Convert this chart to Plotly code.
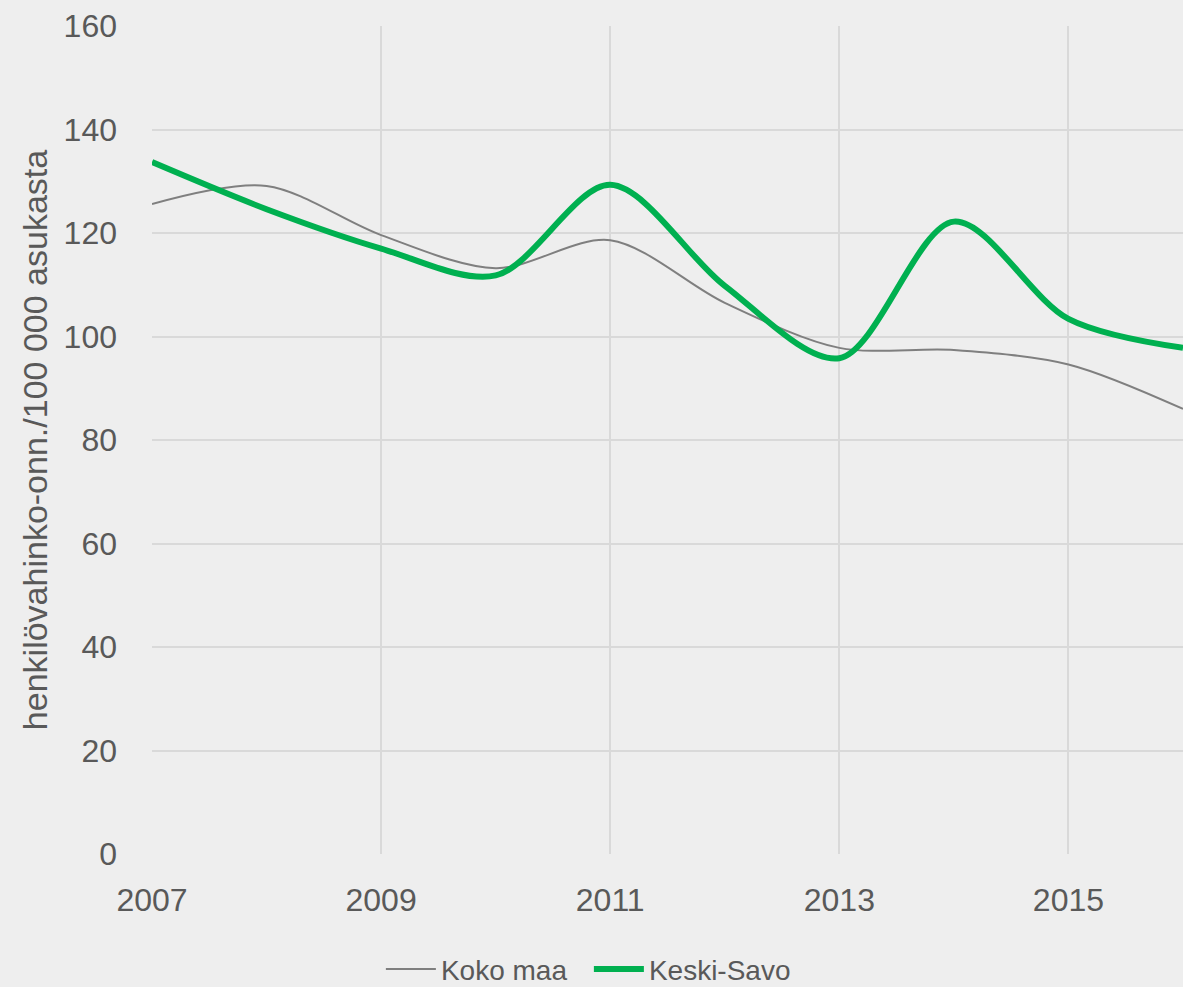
import plotly.graph_objects as go

years = [2007, 2008, 2009, 2010, 2011, 2012, 2013, 2014, 2015, 2016]
koko_maa = [125.6, 129.1, 119.6, 113.2, 118.6, 106.5, 97.8, 97.4, 94.6, 86.0]
keski_savo = [133.7, 124.6, 117.0, 111.8, 129.3, 109.8, 95.8, 122.2, 103.4, 97.8]

x_ticks = [2007, 2009, 2011, 2013, 2015]
y_ticks = [0, 20, 40, 60, 80, 100, 120, 140, 160]

FONT = "Liberation Sans Narrow, Arial Narrow, Liberation Sans, Arial, sans-serif"
TXT = "#595959"
BG = "#eeeeee"

fig = go.Figure()
fig.add_trace(go.Scatter(
    x=years, y=koko_maa, name="Koko maa", mode="lines",
    line=dict(color="#7f7f7f", width=2, shape="spline", smoothing=0.9),
))
fig.add_trace(go.Scatter(
    x=years, y=keski_savo, name="Keski-Savo", mode="lines",
    line=dict(color="#00b050", width=6, shape="spline", smoothing=0.9),
))

fig.update_layout(
    width=1183, height=987,
    margin=dict(l=152, r=0, t=26, b=133, autoexpand=False),
    paper_bgcolor=BG, plot_bgcolor=BG,
    font=dict(family=FONT, size=32, color=TXT),
    showlegend=True,
    legend=dict(orientation="h", x=0.222, xanchor="left", y=-0.109, yanchor="top",
                font=dict(size=28, color=TXT), bgcolor="rgba(0,0,0,0)",
                itemwidth=50, entrywidth=143, tracegroupgap=0),
    xaxis=dict(range=[2007, 2016], tickvals=x_ticks, ticktext=[str(v) for v in x_ticks],
               showgrid=True, gridcolor="#d9d9d9", gridwidth=2,
               zeroline=False, showline=False, ticks="",
               ticklabelstandoff=24, tickfont=dict(size=32, color=TXT)),
    yaxis=dict(range=[0, 160], tickvals=y_ticks,
               showgrid=True, gridcolor="#d9d9d9", gridwidth=2,
               zeroline=False, showline=False, ticks="",
               ticklabelstandoff=34, tickfont=dict(size=32, color=TXT),
               title=dict(text="henkilövahinko-onn./100 000 asukasta",
                          font=dict(size=34, color=TXT), standoff=5)),
)

fig.write_html(
    "out.html",
    config={"displayModeBar": False},
    post_script="document.body.style.margin='0';document.body.style.background='#eeeeee';"
                "document.documentElement.style.overflow='hidden';",
)
